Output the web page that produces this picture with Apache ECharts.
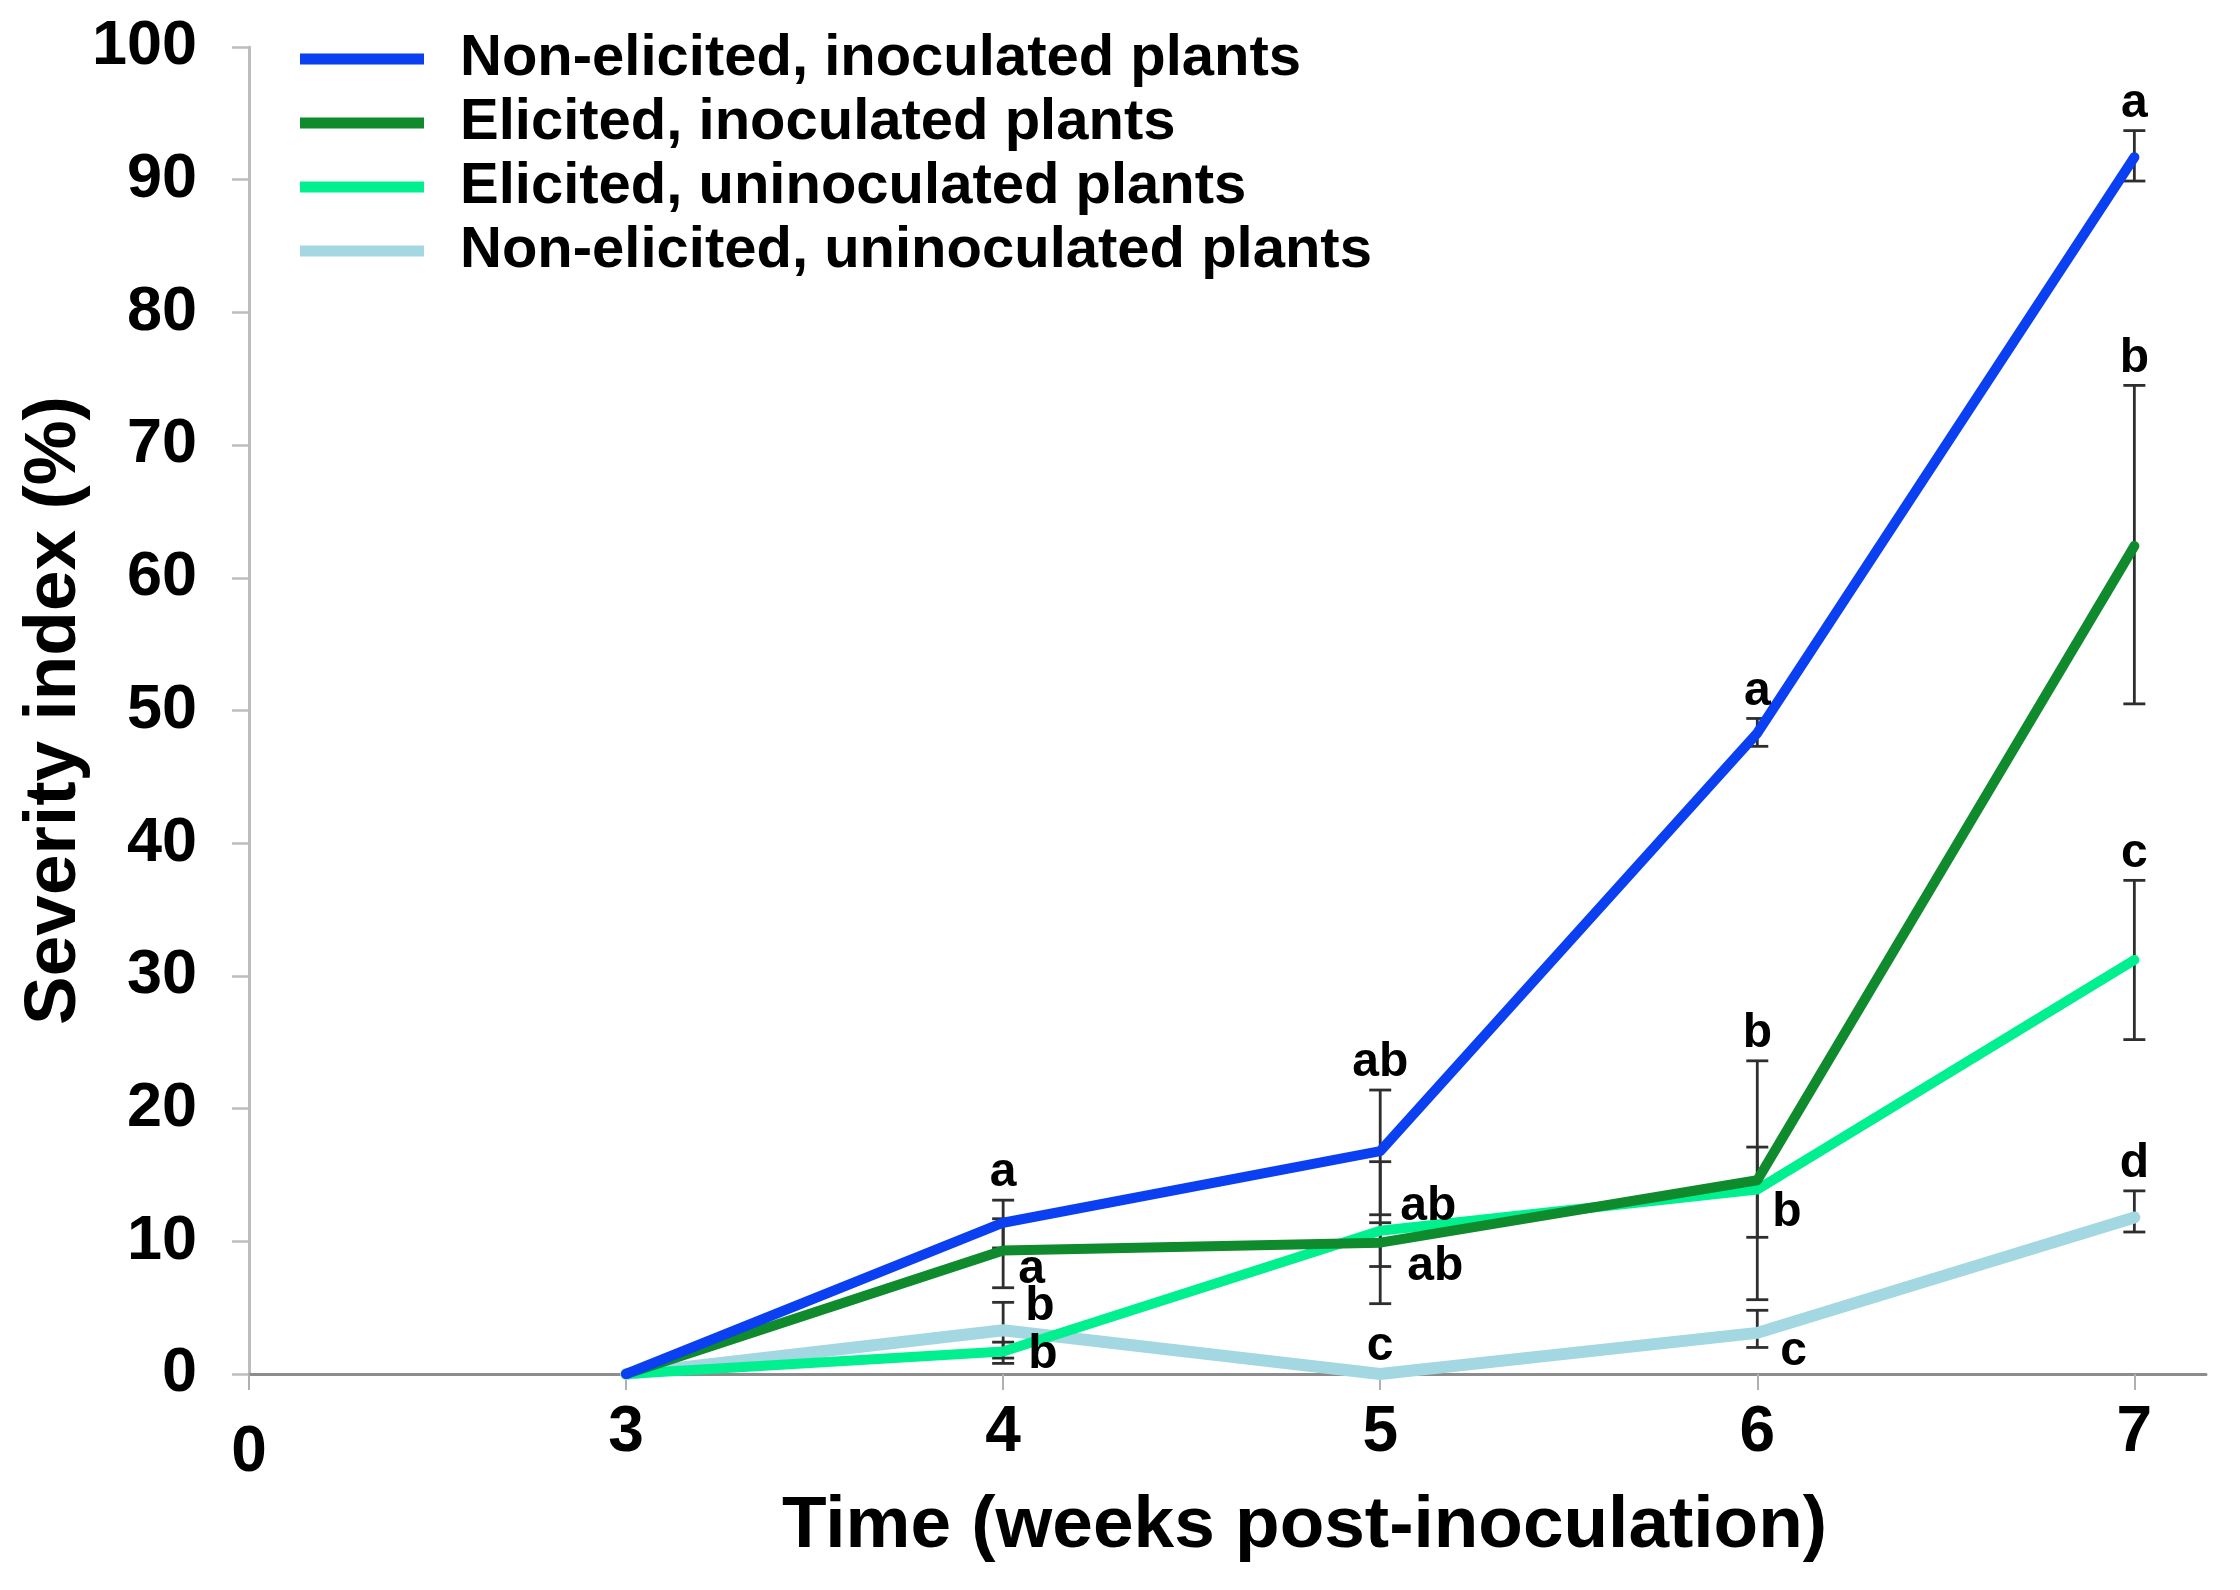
<!DOCTYPE html>
<html>
<head>
<meta charset="utf-8">
<script src="https://cdn.jsdelivr.net/npm/echarts@6/dist/echarts.min.js"></script>
<style>
html,body{margin:0;padding:0;background:#fff;}
#chart{width:2240px;height:1590px;}
</style>
</head>
<body>
<div id="chart"></div>
<script>
// ---------- data ----------
const weekLabels = ['0', '3', '4', '5', '6', '7'];
const weeks = ['3', '4', '5', '6', '7'];
const seriesNames = [
  'Non-elicited, inoculated plants',
  'Elicited, inoculated plants',
  'Elicited, uninoculated plants',
  'Non-elicited, uninoculated plants'
];
const nonElicInoc      = [0, 11.4, 16.8, 48.3, 91.7];
const nonElicInocUp    = [0, 1.7, 4.6, 1.1, 2.0];
const nonElicInocDn    = [0, 1.9, 4.8, 1.0, 1.8];
const elicInoc         = [0, 9.3, 9.9, 14.6, 62.4];
const elicInocUp       = [0, 2.4, 6.1, 9.0, 12.1];
const elicInocDn       = [0, 2.8, 4.6, 9.0, 11.9];
const elicUninoc       = [0, 1.7, 10.8, 13.9, 31.2];
const elicUninocUp     = [0, 0.7, 0.6, 3.2, 6.0];
const elicUninocDn     = [0, 0.9, 2.7, 3.6, 6.0];
const nonElicUninoc    = [0, 3.3, 0, 3.1, 11.8];
const nonElicUninocUp  = [0, 2.1, 0, 1.7, 2.0];
const nonElicUninocDn  = [0, 2.1, 0, 1.1, 1.1];
const lettersNonElicInoc   = ['', 'a', 'ab', 'a', 'a'];
const lettersElicInoc      = ['', 'a', 'ab', 'b', 'b'];
const lettersElicUninoc    = ['', 'b', 'ab', 'b', 'c'];
const lettersNonElicUninoc = ['', 'b', 'c', 'c', 'd'];
const yTicks = [0, 10, 20, 30, 40, 50, 60, 70, 80, 90, 100];

// ---------- styles ----------
const FONT = '"Liberation Sans", Arial, Helvetica, sans-serif';
const colors = ['#0a3ff2', '#0f8a2d', '#00f090', '#a3d7e1'];
const lineWidths = [10, 10, 10, 12];
// letter placement: 't' = centred above upper cap; ['r', dx, dy] = right of point
const placements = [
  [null, 't', 't', 't', 't'],
  [null, ['r', 15, 19], ['r', 27, 24], 't', 't'],
  [null, ['r', 25, 3], ['r', 20, -24], ['r', 15, 23], 't'],
  [null, ['r', 22, -23], 't', ['r', 23, 19], 't']
];

const groups = [
  [nonElicInoc, nonElicInocUp, nonElicInocDn, lettersNonElicInoc],
  [elicInoc, elicInocUp, elicInocDn, lettersElicInoc],
  [elicUninoc, elicUninocUp, elicUninocDn, lettersElicUninoc],
  [nonElicUninoc, nonElicUninocUp, nonElicUninocDn, lettersNonElicUninoc]
];

function toData(g) {
  return weeks.map((w, i) => [weekLabels.indexOf(w), g[0][i], g[1][i], g[2][i]]);
}

const series = [];
// error bars (under lines)
groups.forEach((g, si) => {
  series.push({
    name: 'eb' + si,
    type: 'custom',
    z: 1,
    silent: true,
    clip: false,
    data: toData(g),
    encode: { x: 0, y: 1 },
    renderItem: function (params, api) {
      const x = api.value(0), v = api.value(1), up = api.value(2), dn = api.value(3);
      const children = [];
      if (up > 0 || dn > 0) {
        const top = api.coord([x, v + up]);
        const bot = api.coord([x, v - dn]);
        const hw = 11;
        const st = { stroke: '#2e2e2e', lineWidth: 2.8 };
        children.push({ type: 'line', shape: { x1: top[0], y1: top[1], x2: bot[0], y2: bot[1] }, style: st });
        children.push({ type: 'line', shape: { x1: top[0] - hw, y1: top[1], x2: top[0] + hw, y2: top[1] }, style: st });
        children.push({ type: 'line', shape: { x1: bot[0] - hw, y1: bot[1], x2: bot[0] + hw, y2: bot[1] }, style: st });
      }
      return { type: 'group', children: children };
    }
  });
});
// lines: draw light blue first, blue last (on top)
[3, 2, 1, 0].forEach((si) => {
  series.push({
    name: seriesNames[si],
    type: 'line',
    z: 2,
    color: colors[si],
    showSymbol: false,
    symbol: 'none',
    silent: true,
    animation: false,
    lineStyle: { width: lineWidths[si], color: colors[si], cap: 'round', join: 'round' },
    data: toData(groups[si]).map(d => [d[0], d[1]])
  });
});
// significance letters (on top)
groups.forEach((g, si) => {
  series.push({
    name: 'lt' + si,
    type: 'custom',
    z: 3,
    silent: true,
    clip: false,
    data: toData(g),
    encode: { x: 0, y: 1 },
    renderItem: function (params, api) {
      const i = params.dataIndex;
      const letter = g[3][i];
      const pl = placements[si][i];
      if (!letter || !pl) return { type: 'group', children: [] };
      const x = api.value(0), v = api.value(1), up = api.value(2);
      let tx, ty, align;
      if (pl === 't') {
        const top = api.coord([x, v + up]);
        tx = top[0]; ty = top[1] - 27; align = 'center';
      } else {
        const p = api.coord([x, v]);
        tx = p[0] + pl[1]; ty = p[1] + pl[2]; align = 'left';
      }
      return {
        type: 'text',
        style: {
          text: letter, x: tx, y: ty,
          fill: '#000', align: align, verticalAlign: 'middle',
          font: 'bold 48px ' + FONT
        }
      };
    }
  });
});

const chart = echarts.init(document.getElementById('chart'), null, { renderer: 'canvas' });
chart.setOption({
  animation: false,
  backgroundColor: '#ffffff',
  grid: { left: 249, right: 34, top: 47, bottom: 216, containLabel: false },
  legend: {
    data: seriesNames,
    orient: 'vertical',
    left: 300,
    top: 29,
    padding: 0,
    itemGap: 4,
    itemWidth: 124,
    itemHeight: 11,
    icon: 'rect',
    selectedMode: false,
    textStyle: {
      fontFamily: FONT, fontWeight: 'bold', fontSize: 58, color: '#000',
      lineHeight: 60, padding: [0, 0, 0, 31]
    }
  },
  xAxis: {
    type: 'value',
    min: 0,
    max: 5.19,
    interval: 1,
    name: 'Time (weeks post-inoculation)',
    nameLocation: 'middle',
    nameGap: 108,
    nameTextStyle: {
      fontFamily: FONT, fontWeight: 'bold', fontSize: 73, color: '#000',
      padding: [0, 0, 0, 154]
    },
    splitLine: { show: false },
    axisLine: { show: true, onZero: false, lineStyle: { color: '#8c8c8c', width: 3 } },
    axisTick: {
      show: true, length: 16, customValues: [0, 1, 2, 3, 4, 5],
      lineStyle: { color: '#b0b0b0', width: 2 }
    },
    axisLabel: {
      customValues: [0, 1, 2, 3, 4, 5],
      margin: 27,
      fontFamily: FONT, fontWeight: 'bold', fontSize: 64, color: '#000',
      formatter: function (val) {
        const idx = Math.round(val);
        if (Math.abs(val - idx) > 1e-6) return '';
        const t = weekLabels[idx];
        return idx === 0 ? '{z|' + t + '}' : t;
      },
      rich: {
        z: { fontFamily: FONT, fontWeight: 'bold', fontSize: 64, color: '#000', padding: [20, 0, 0, 0] }
      }
    }
  },
  yAxis: {
    type: 'value',
    min: yTicks[0],
    max: yTicks[yTicks.length - 1],
    interval: yTicks[1] - yTicks[0],
    name: 'Severity index (%)',
    nameLocation: 'middle',
    nameGap: 158,
    nameMoveOverlap: false,
    nameRotate: 90,
    nameTextStyle: { fontFamily: FONT, fontWeight: 'bold', fontSize: 73, color: '#000' },
    splitLine: { show: false },
    axisLine: { show: true, lineStyle: { color: '#bdbdbd', width: 3 } },
    axisTick: { show: true, length: 17, lineStyle: { color: '#bdbdbd', width: 2.5 } },
    axisLabel: {
      margin: 52,
      fontFamily: FONT, fontWeight: 'bold', fontSize: 63, color: '#000'
    }
  },
  series: series
});
</script>
</body>
</html>
